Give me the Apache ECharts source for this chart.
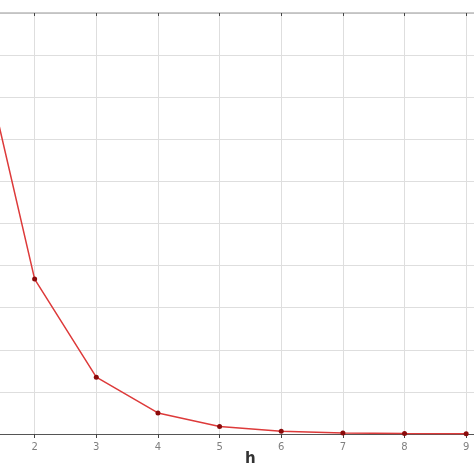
<!DOCTYPE html>
<html>
<head>
<meta charset="utf-8">
<script src="https://cdn.jsdelivr.net/npm/echarts@6/dist/echarts.min.js"></script>
<style>
html,body{margin:0;padding:0;background:#fff;overflow:hidden;width:474px;height:474px;}
#wrap{position:relative;width:474px;height:474px;overflow:hidden;}
#c{position:absolute;left:-30px;top:0;width:530px;height:474px;}
</style>
</head>
<body>
<div id="wrap"><div id="c"></div></div>
<script>
var hValues = [1, 2, 3, 4, 5, 6, 7, 8, 9];
var yValues = [1.0, 0.368, 0.135, 0.050, 0.018, 0.0067, 0.0025, 0.0009, 0.0003];
var xLabel = 'h';

var chart = echarts.init(document.getElementById('c'));
var pts = hValues.map(function (h, i) { return [h, yValues[i]]; });
chart.setOption({
  animation: false,
  backgroundColor: '#fff',
  grid: { left: 0, right: 0, top: 13, bottom: 40, containLabel: false },
  xAxis: [{
    type: 'value', min: 1, max: 9.5, interval: 1, position: 'bottom',
    axisLine: { show: true, lineStyle: { color: '#555', width: 1 } },
    axisTick: { show: true, inside: false, length: 4, lineStyle: { color: '#444' } },
    axisLabel: { color: '#808080', fontSize: 10, margin: 8, fontFamily: 'DejaVu Sans',
      formatter: function (v) { return (Number.isInteger(v) && v > 1) ? String(v) : ''; } },
    splitLine: { show: true, lineStyle: { color: '#dedede', width: 1 } }
  }, {
    type: 'value', min: 1, max: 9.5, interval: 1, position: 'top',
    axisLine: { show: true, lineStyle: { color: '#bbb', width: 1.5 } },
    axisTick: { show: true, inside: true, length: 3, lineStyle: { color: '#444' } },
    axisLabel: { show: false },
    splitLine: { show: false }
  }],
  yAxis: {
    type: 'value', min: 0, max: 1, interval: 0.1,
    axisLine: { show: false }, axisTick: { show: false }, axisLabel: { show: false },
    splitLine: { show: true, lineStyle: { color: '#dedede', width: 1 } }
  },
  graphic: [{
    type: 'text', left: 275, top: 452,
    style: { text: xLabel, fontSize: 15, fontWeight: 'bold', fontFamily: 'DejaVu Sans', fill: '#333' }
  }],
  series: [{
    type: 'line', data: pts, xAxisIndex: 0,
    lineStyle: { color: '#dd3a3a', width: 1.5 },
    symbol: 'circle', symbolSize: 5,
    itemStyle: { color: '#8b0a0a' },
    clip: true
  }]
});
</script>
</body>
</html>
